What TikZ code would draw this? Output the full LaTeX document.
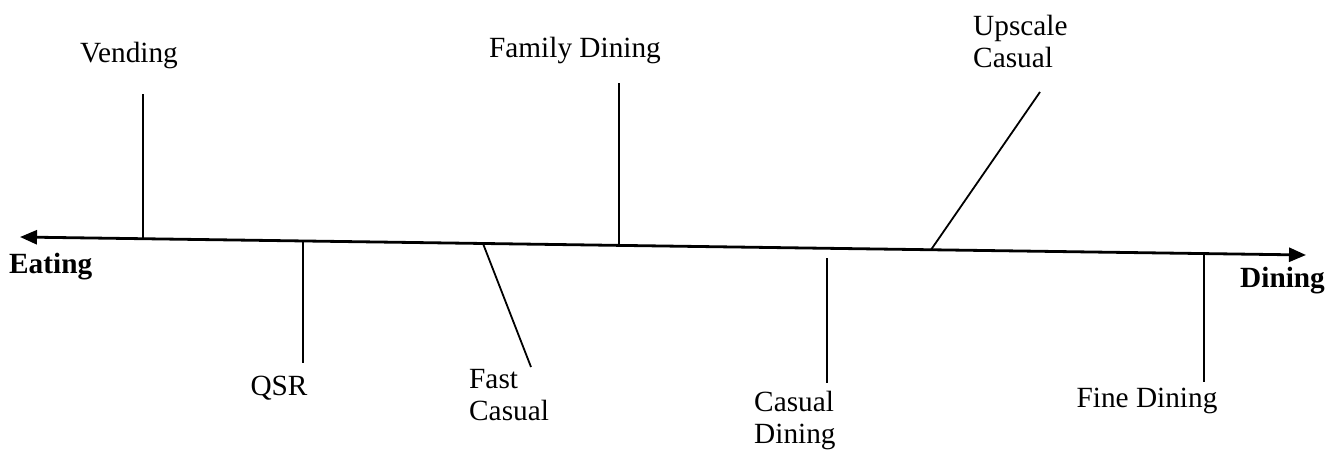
\documentclass[tikz,border=0pt]{standalone}
\usepackage{fontspec}
\setmainfont{Liberation Serif}
\usetikzlibrary{arrows.meta,calc}
\begin{document}
\begin{tikzpicture}[x=1pt,y=-1pt,
  lbl/.style={inner sep=0pt,font=\fontsize{29.3}{32}\selectfont},
  cat/.style={inner sep=0pt,font=\fontsize{29.3}{32}\selectfont\bfseries},
  tick/.style={line width=1.8pt},
  axis/.style={line width=2.8pt,{Triangle[length=17pt,width=14pt]}-{Triangle[length=17pt,width=14pt]}}]
\useasboundingbox (0,0) rectangle (1342,453);

% the eating-to-dining scale
\coordinate (L) at (20,237);
\coordinate (R) at (1306,255);
\draw[axis] (L) -- (R);

% end labels
\node[cat,anchor=base west] (eat) at (9,273) {Eating};
\node[cat,anchor=base west] (din) at (1240,287) {Dining};

% segment labels
\node[lbl,anchor=base] (vend) at (129,62) {Vending};
\node[lbl,anchor=base] (qsr) at (279,395) {QSR};
\node[lbl,anchor=base west,align=left] (fast) at (469,420) {Fast\\Casual};
\node[lbl,anchor=base] (fam) at (575,57) {Family Dining};
\node[lbl,anchor=base west,align=left] (cas) at (754,443) {Casual\\Dining};
\node[lbl,anchor=base west,align=left] (up) at (973,67) {Upscale\\Casual};
\node[lbl,anchor=base] (fine) at (1147,407) {Fine Dining};

% points on the scale
\coordinate (vendB) at ($(L)!0.0956!(R)$);
\coordinate (qsrB)  at ($(L)!0.2201!(R)$);
\coordinate (fastB) at ($(L)!0.3600!(R)$);
\coordinate (famB)  at ($(L)!0.4658!(R)$);
\coordinate (upB)   at ($(L)!0.7084!(R)$);
\coordinate (fineB) at ($(L)!0.9207!(R)$);

% free ends of the pointer lines
\coordinate (vendT) at (143,94);
\coordinate (qsrT)  at (303,363);
\coordinate (fastT) at (531,367);
\coordinate (famT)  at (619,83);
\coordinate (casT)  at (827,258);
\coordinate (casE)  at (827,383);
\coordinate (upT)   at (1040,92);
\coordinate (fineT) at (1204,382);

\draw[tick] (vendB) -- (vendB |- vendT);
\draw[tick] (qsrB) -- (qsrB |- qsrT);
\draw[tick] (fastB) -- (fastT);
\draw[tick] (famB) -- (famB |- famT);
\draw[tick] (casT) -- (casE);
\draw[tick] (upB) -- (upT);
\draw[tick] (fineB) -- (fineB |- fineT);
\end{tikzpicture}
\end{document}
